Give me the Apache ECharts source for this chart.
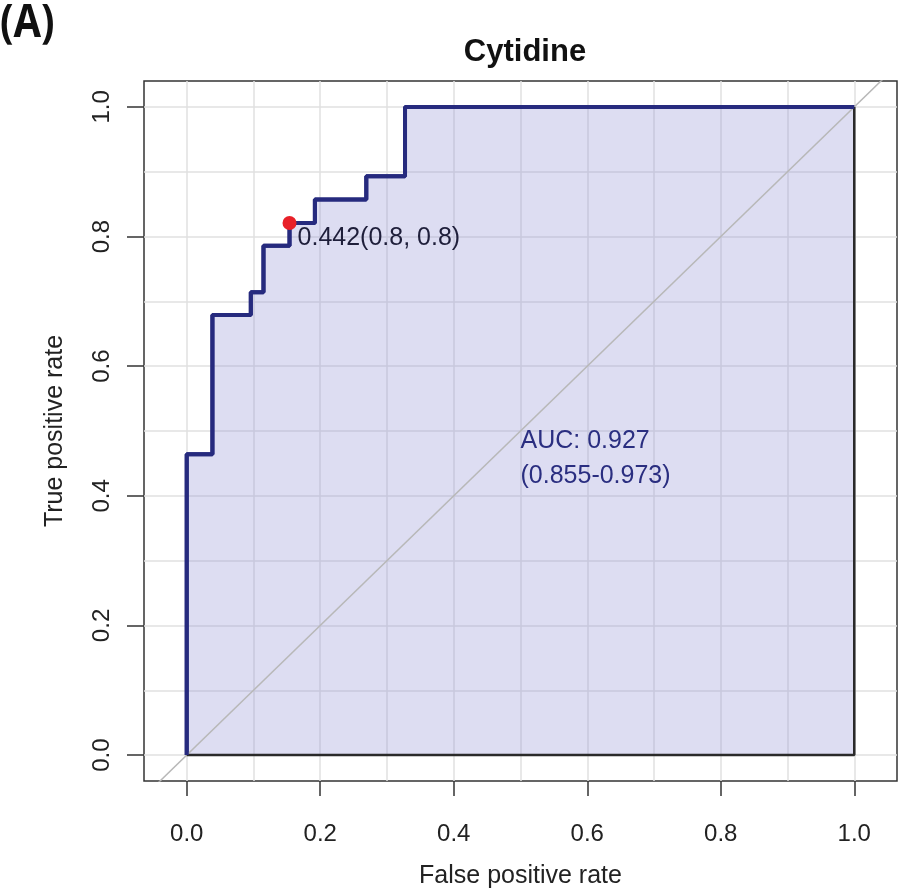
<!DOCTYPE html>
<html>
<head>
<meta charset="utf-8">
<title>Cytidine ROC</title>
<script src="https://cdn.jsdelivr.net/npm/echarts@6/dist/echarts.min.js"></script>
<style>
  html, body { margin: 0; padding: 0; background: #fff; }
  #rocDiv { width: 898px; height: 894px; }
</style>
</head>
<body>
<div id="rocDiv"></div>
<script>
// ROC 曲线的顶点（假阳性率, 真阳性率）
const fprList = [0, 0, 0.0385, 0.0385, 0.096, 0.096, 0.115, 0.115, 0.154, 0.154, 0.192, 0.192, 0.269, 0.269, 0.327, 0.327, 1];
const tprList = [0, 0.464, 0.464, 0.679, 0.679, 0.714, 0.714, 0.786, 0.786, 0.821, 0.821, 0.857, 0.857, 0.893, 0.893, 1, 1];
// 最佳阈值点
const bestPoint = [0.154, 0.821];
const bestLabel = '0.442(0.8, 0.8)';
// AUC 文字
const aucPos = [0.5, 0.5];
const aucText = ['AUC: 0.927', '(0.855-0.973)'];
// 刻度与网格
const tickValues = [0, 0.2, 0.4, 0.6, 0.8, 1.0];
const gridValues = [0, 0.1, 0.2, 0.3, 0.4, 0.5, 0.6, 0.7, 0.8, 0.9, 1.0];
const diagLine = [[-0.2, -0.2], [1.2, 1.2]];

const font = 'Liberation Sans, Arial, sans-serif';
let rocChart = echarts.init(document.getElementById('rocDiv'));

let curveData = fprList.map((x, i) => [x, tprList[i]]);
let gridMarks = gridValues.map(v => ({ xAxis: v })).concat(gridValues.map(v => ({ yAxis: v })));

let axisCommon = {
  type: 'value',
  axisLine: { show: false, onZero: false },
  axisTick: { show: true, customValues: tickValues, length: 15, lineStyle: { color: '#333', width: 1.5 } },
  splitLine: { show: false },
  nameLocation: 'middle',
  nameTextStyle: { fontSize: 25, fontFamily: font, color: '#222' }
};

let option = {
  backgroundColor: '#fff',
  animation: false,
  title: {
    text: 'Cytidine',
    left: 520,
    textAlign: 'center',
    top: 32,
    textStyle: { fontSize: 31, fontWeight: 'bold', fontFamily: font, color: '#111' }
  },
  graphic: [
    {
      type: 'text', left: 0, top: 0, scaleX: 0.85,
      style: { text: '(A)', fontSize: 47, fontWeight: 'bold', fontFamily: 'Open Sans, sans-serif', fill: '#111' }
    }
  ],
  grid: {
    left: 144, right: 1, top: 81, bottom: 112,
    show: true, borderColor: '#333', borderWidth: 1.5, backgroundColor: 'transparent'
  },
  xAxis: Object.assign({}, axisCommon, {
    min: -0.064, max: 1.064,
    name: 'False positive rate',
    nameGap: 83,
    axisLabel: {
      customValues: tickValues, margin: 41, fontSize: 24, fontFamily: font, color: '#222',
      formatter: v => v.toFixed(1)
    }
  }),
  yAxis: Object.assign({}, axisCommon, {
    min: -0.04, max: 1.04,
    name: 'True positive rate',
    nameGap: 76,
    axisTick: Object.assign({}, axisCommon.axisTick, { length: 17 }),
    axisLabel: {
      customValues: tickValues, margin: 30, rotate: 90, fontSize: 24, fontFamily: font, color: '#222',
      formatter: v => v.toFixed(1)
    }
  }),
  series: [
    {
      // 网格线
      type: 'line', z: 1, silent: true,
      data: [[0, 0]], showSymbol: false, lineStyle: { opacity: 0 },
      markLine: {
        z: 1, silent: true, symbol: 'none', label: { show: false },
        lineStyle: { color: '#e0e0e0', width: 1.5, type: 'solid' },
        data: gridMarks
      }
    },
    {
      // 对角线
      type: 'line', z: 4, silent: true, clip: true,
      data: diagLine, showSymbol: false,
      lineStyle: { color: '#b8b8b8', width: 1.5 }
    },
    {
      // ROC 曲线与 AUC 面积
      type: 'line', z: 3, silent: true,
      data: curveData, showSymbol: false,
      lineStyle: { color: '#262a7e', width: 4 },
      areaStyle: { color: 'rgb(150,150,215)', opacity: 0.32, origin: 0 }
    },
    {
      // 面积右侧与底部边框
      type: 'line', z: 5, silent: true,
      data: [[0, 0], [1, 0], [1, 1]], showSymbol: false,
      lineStyle: { color: '#2a2a2a', width: 2.5 }
    },
    {
      // ROC 曲线重绘在最上层
      type: 'line', z: 6, silent: true,
      data: curveData, showSymbol: false,
      lineStyle: { color: '#262a7e', width: 4 }
    },
    {
      // 最佳阈值点
      type: 'scatter', z: 7, silent: true,
      data: [bestPoint], symbolSize: 14,
      itemStyle: { color: '#e82028', opacity: 1 },
      label: {
        show: true, position: 'right', distance: 1, offset: [0, 15],
        formatter: bestLabel, fontSize: 25, fontFamily: font, color: '#1e1e3a'
      }
    },
    {
      // AUC 文字
      type: 'scatter', z: 7, silent: true,
      data: [aucPos], symbolSize: 0,
      itemStyle: { opacity: 1 },
      label: {
        show: true, position: 'inside', align: 'left', verticalAlign: 'middle', offset: [0, 28],
        formatter: aucText.join('\n'), lineHeight: 35,
        fontSize: 25, fontFamily: font, color: '#2a2e80'
      }
    }
  ]
};
option && rocChart.setOption(option);
</script>
</body>
</html>
